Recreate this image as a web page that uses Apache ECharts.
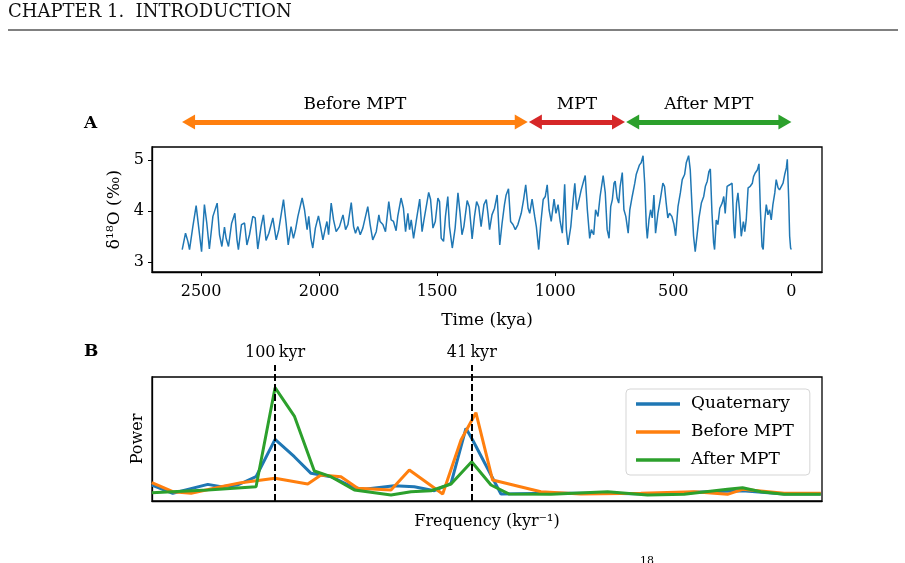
<!DOCTYPE html>
<html>
	<head>
		<meta charset="utf-8" />
		<title>MPT</title>
		<script src="https://cdn.jsdelivr.net/npm/echarts@6/dist/echarts.min.js"></script>
		<style>
			html, body { margin: 0; padding: 0; background: #fff; }
			#chart { width: 905px; height: 563px; }
		</style>
	</head>
	<body>
		<div id="chart"></div>
		<script type="text/javascript">
			// Panel A: d18O stack, age in kya
			var ageKya = [2580,2566,2556,2549,2535,2521,2514,2504,2498,2486,2476,2465,2450,2432,2422,2412,2401,2394,2384,2371,
				2357,2348,2342,2329,2316,2306,2295,2281,2271,2260,2246,2236,2225,2213,2196,2182,2171,2151,2140,2131,
				2119,2109,2100,2090,2072,2062,2051,2044,2035,2027,2016,2003,1994,1984,1975,1967,1960,1949,1939,1928,
				1914,1899,1888,1878,1864,1854,1846,1836,1826,1815,1794,1784,1773,1758,1747,1742,1730,1719,1705,1695,
				1685,1674,1667,1653,1643,1634,1624,1617,1610,1600,1589,1574,1564,1557,1549,1536,1528,1518,1508,1497,
				1490,1483,1473,1465,1455,1448,1436,1424,1412,1403,1395,1387,1373,1364,1352,1342,1333,1324,1314,1302,
				1292,1285,1278,1268,1257,1246,1235,1225,1215,1208,1198,1189,1179,1169,1158,1144,1134,1125,1115,1108,
				1098,1087,1080,1070,1061,1051,1042,1034,1026,1017,1005,997,988,979,970,960,953,946,934,924,
				917,909,899,890,880,873,864,854,847,837,829,819,810,797,788,780,772,765,758,751,
				746,738,731,725,716,709,701,691,684,674,663,657,650,643,636,628,621,614,610,603,
				596,589,582,575,565,554,544,537,530,523,516,506,497,490,480,470,462,452,445,435,
				428,420,414,407,400,391,381,371,364,356,349,343,336,329,325,318,311,303,293,286,
				280,272,261,251,243,239,232,226,219,212,203,197,191,183,174,165,160,153,144,137,
				131,124,119,113,106,99,92,85,78,70,64,56,50,42,35,28,21,17,11,7,3,0];
			var d18O = [3.24,3.56,3.40,3.24,3.69,4.10,4.10,3.43,3.20,4.12,3.76,3.25,3.89,4.15,3.53,3.30,3.68,3.46,3.30,3.75,
				3.95,3.43,3.24,3.73,3.76,3.33,3.53,3.89,3.86,3.25,3.69,3.92,3.42,3.56,3.86,3.43,3.63,4.22,3.76,3.33,
				3.69,3.46,3.63,3.89,4.25,4.02,3.63,3.89,3.46,3.27,3.66,3.90,3.69,3.43,3.63,3.79,3.53,4.15,3.82,3.59,
				3.69,3.92,3.63,3.73,4.16,3.69,3.56,3.69,3.53,3.66,4.08,3.73,3.43,3.59,3.92,3.79,3.73,3.59,4.18,3.82,
				3.79,3.61,3.89,4.25,4.05,3.59,3.95,3.63,3.82,3.46,3.79,4.23,3.59,3.79,3.79,4.36,4.22,3.66,3.79,4.25,
				4.18,3.46,3.40,3.89,4.28,3.69,3.27,3.66,4.35,3.95,3.53,3.69,4.20,4.08,3.45,3.89,4.18,4.08,3.69,4.12,
				4.22,3.95,3.63,3.92,4.05,4.31,3.33,3.76,4.12,4.31,4.43,3.79,3.73,3.63,3.73,3.95,4.22,4.51,4.05,3.95,
				4.23,3.89,3.69,3.24,3.76,4.22,4.28,4.51,4.02,3.79,4.23,3.95,4.12,3.79,3.56,4.52,3.63,3.33,3.69,4.22,
				4.54,4.02,4.22,4.41,4.58,4.69,4.02,3.46,3.63,3.53,4.02,3.89,4.28,4.69,4.35,3.63,3.46,4.08,4.22,4.54,
				4.58,4.25,4.15,4.48,4.75,4.02,3.89,3.56,4.02,4.28,4.54,4.71,4.74,4.90,4.94,5.08,4.54,3.69,3.46,3.82,
				4.02,3.86,4.31,3.56,3.95,4.25,4.54,4.48,4.15,3.86,3.95,3.89,3.73,3.51,4.08,4.35,4.61,4.71,4.94,5.08,
				4.80,4.02,3.50,3.20,3.17,3.86,4.15,4.28,4.48,4.58,4.77,4.82,3.95,3.37,3.24,3.82,3.73,4.05,4.15,4.28,
				3.95,4.48,4.51,4.54,3.63,3.46,4.15,4.35,3.99,3.50,3.79,3.59,3.82,4.45,4.48,4.54,4.67,4.74,4.80,4.92,
				4.02,3.30,3.24,3.79,4.12,3.92,4.02,3.82,4.12,4.35,4.61,4.45,4.41,4.48,4.54,4.71,4.84,5.01,4.22,3.50,3.27,3.24];
			var ageTicks = [0, 500, 1000, 1500, 2000, 2500];
			var d18OTicks = [3, 4, 5];

			// periods shown with arrows above panel A (kya)
			var periodNames = ['Before MPT', 'MPT', 'After MPT'];
			var periodEdges = [2580, 1117, 705, 0];
			var periodColors = ['#ff7f0e', '#d62728', '#2ca02c'];

			// Panel B: power spectra (frequency in 1/kyr, power scaled 0..1)
			var freqQ = [0.00099,0.00252,0.00508,0.00605,0.00727,0.00861,0.0100,0.01141,0.01263,0.01409,0.0158,0.01653,0.01872,0.02018,0.02165,0.02287,0.02396,0.02445,0.02652,0.03018,0.03432,0.03724,0.04163,0.04419,0.04723,0.04991];
			var powQ = [0.129,0.062,0.134,0.115,0.129,0.196,0.497,0.357,0.223,0.196,0.107,0.094,0.123,0.115,0.083,0.143,0.586,0.492,0.056,0.062,0.062,0.056,0.075,0.083,0.056,0.056];
			var freqB = [0.00099,0.00252,0.00386,0.00605,0.00751,0.0100,0.01239,0.01336,0.01482,0.01604,0.01848,0.01982,0.02226,0.0236,0.02469,0.02591,0.02944,0.03237,0.03675,0.04065,0.04309,0.04419,0.04723,0.04991];
			var powB = [0.148,0.075,0.062,0.115,0.148,0.183,0.137,0.210,0.196,0.102,0.089,0.250,0.056,0.492,0.712,0.169,0.075,0.056,0.062,0.075,0.054,0.094,0.062,0.062];
			var freqA = [0.00099,0.00508,0.00861,0.0100,0.01141,0.01287,0.01409,0.0158,0.01848,0.01994,0.0214,0.02287,0.02438,0.02579,0.02713,0.03018,0.03432,0.03724,0.03992,0.04309,0.04419,0.04553,0.04723,0.04991];
			var powA = [0.067,0.089,0.115,0.914,0.685,0.242,0.196,0.089,0.048,0.075,0.083,0.137,0.317,0.129,0.056,0.054,0.075,0.048,0.054,0.094,0.107,0.075,0.054,0.054];
			var cycleNames = ['100\u2009kyr', '41\u2009kyr'];
			var cyclePeriods = [100, 41];

			var font = 'DejaVu Serif';

			function zip(xs, ys) {
				return xs.map(function (x, i) { return [x, ys[i]]; });
			}
			function plain(v) { return String(v); }

			// arrows: shorten each end by half a head so the tip sits on the edge
			var headHalf = 27;
			var arrowLines = periodNames.map(function (name, i) {
				var gap = i > 0 ? 6 : 0;
				return [
					{ coord: [periodEdges[i] - gap - headHalf, 0.5], lineStyle: { color: periodColors[i] }, itemStyle: { color: periodColors[i] },
						label: { formatter: name } },
					{ coord: [periodEdges[i + 1] + headHalf, 0.5] }
				];
			});

			var myChart = echarts.init(document.getElementById('chart'));
			myChart.setOption({
				animation: false,
				textStyle: { fontFamily: font, color: '#000' },
				grid: [
					{ left: 152, right: 83, top: 102, height: 40, show: false },
					{ left: 152, right: 83, top: 147, height: 125, show: true, borderColor: '#000', borderWidth: 1.3 },
					{ left: 152, right: 83, top: 377, height: 124, show: true, borderColor: '#000', borderWidth: 1.3 },
					{ left: 152, right: 83, top: 365, height: 136, show: false }
				],
				xAxis: [
					{ gridIndex: 0, type: 'value', inverse: true, min: -130, max: 2708, show: false },
					{
						gridIndex: 1, type: 'value', inverse: true, min: -130, max: 2708,
						name: 'Time (kya)', nameLocation: 'middle', nameGap: 40,
						nameTextStyle: { fontSize: 17, fontFamily: font, color: '#000' },
						axisLine: { onZero: false, lineStyle: { color: '#000', width: 1.3 } },
						axisTick: { length: 4, lineStyle: { color: '#000' }, customValues: ageTicks },
						axisLabel: { fontSize: 16, fontFamily: font, color: '#000', margin: 12, formatter: plain, customValues: ageTicks },
						splitLine: { show: false }
					},
					{
						gridIndex: 2, type: 'value', min: 0.001, max: 0.05,
						name: 'Frequency (kyr\u207B\u00B9)', nameLocation: 'middle', nameGap: 13,
						nameTextStyle: { fontSize: 16, fontFamily: font, color: '#000' },
						axisLine: { onZero: false, lineStyle: { color: '#000', width: 1.3 } },
						axisTick: { show: false }, axisLabel: { show: false }, splitLine: { show: false }
					},
					{ gridIndex: 3, type: 'value', min: 0.001, max: 0.05, show: false }
				],
				yAxis: [
					{ gridIndex: 0, type: 'value', min: 0, max: 1, show: false },
					{
						gridIndex: 1, type: 'value', min: 2.8, max: 5.25,
						name: '\u03B4\u00B9\u2078O (\u2030)', nameLocation: 'middle', nameGap: 26,
						nameTextStyle: { fontSize: 17, fontFamily: font, color: '#000' },
						axisLine: { show: true, onZero: false, lineStyle: { color: '#000', width: 1.3 } },
						axisTick: { show: true, length: 4, lineStyle: { color: '#000' }, customValues: d18OTicks },
						axisLabel: { fontSize: 16, fontFamily: font, color: '#000', margin: 8, formatter: plain, customValues: d18OTicks },
						splitLine: { show: false }
					},
					{
						gridIndex: 2, type: 'value', min: 0, max: 1,
						name: 'Power', nameLocation: 'middle', nameGap: 6,
						nameTextStyle: { fontSize: 16, fontFamily: font, color: '#000' },
						axisLine: { show: true, onZero: false, lineStyle: { color: '#000', width: 1.3 } },
						axisTick: { show: false }, axisLabel: { show: false }, splitLine: { show: false }
					},
					{ gridIndex: 3, type: 'value', min: 0, max: 1, show: false }
				],
				legend: {
					data: ['Quaternary', 'Before MPT', 'After MPT'],
					orient: 'vertical',
					left: 626, top: 389,
					icon: 'rect',
					padding: [5, 16, 5, 10],
					itemWidth: 44, itemHeight: 3.5, itemGap: 8,
					borderColor: '#d5d5d5', borderWidth: 1, borderRadius: 4,
					backgroundColor: 'rgba(255,255,255,0.8)',
					textStyle: { fontSize: 17, fontFamily: font, color: '#000', padding: [0, 0, 0, 6], lineHeight: 20 }
				},
				series: [
					{
						name: 'arrows', type: 'line', xAxisIndex: 0, yAxisIndex: 0,
						data: zip(periodEdges, periodEdges.map(function () { return 0.5; })),
						symbol: 'none', lineStyle: { opacity: 0 }, silent: true,
						markLine: {
							silent: true,
							symbol: ['triangle', 'triangle'],
							symbolSize: [15, 13],
							lineStyle: { width: 5, type: 'solid' },
							label: { show: true, position: 'middle', distance: 9, fontSize: 17, fontFamily: font, color: '#000' },
							emphasis: { disabled: true },
							data: arrowLines
						}
					},
					{
						name: 'd18O', type: 'line', xAxisIndex: 1, yAxisIndex: 1,
						data: zip(ageKya, d18O),
						symbol: 'none', lineStyle: { color: '#1f77b4', width: 1.5 }
					},
					{
						name: 'Quaternary', type: 'line', xAxisIndex: 2, yAxisIndex: 2,
						data: zip(freqQ, powQ), symbol: 'none',
						color: '#1f77b4', itemStyle: { color: '#1f77b4' }, lineStyle: { color: '#1f77b4', width: 3 }
					},
					{
						name: 'Before MPT', type: 'line', xAxisIndex: 2, yAxisIndex: 2,
						data: zip(freqB, powB), symbol: 'none',
						color: '#ff7f0e', itemStyle: { color: '#ff7f0e' }, lineStyle: { color: '#ff7f0e', width: 3 }
					},
					{
						name: 'After MPT', type: 'line', xAxisIndex: 2, yAxisIndex: 2,
						data: zip(freqA, powA), symbol: 'none',
						color: '#2ca02c', itemStyle: { color: '#2ca02c' }, lineStyle: { color: '#2ca02c', width: 3 }
					},
					{
						name: 'cycles', type: 'line', xAxisIndex: 3, yAxisIndex: 3, z: 5,
						data: cyclePeriods.map(function (p) { return [1 / p, 0]; }),
						symbol: 'none', lineStyle: { opacity: 0 }, silent: true,
						markLine: {
							silent: true, symbol: 'none',
							lineStyle: { color: '#000', width: 2, type: [7, 3] },
							label: { show: true, position: 'end', distance: 4, fontSize: 16, fontFamily: font, color: '#000' },
							emphasis: { disabled: true },
							data: cyclePeriods.map(function (p, i) {
								return [
									{ coord: [1 / p, 0], label: { formatter: cycleNames[i] } },
									{ coord: [1 / p, 1] }
								];
							})
						}
					}
				],
				graphic: [
					{ type: 'text', left: 8, top: 3, style: { text: 'CHAPTER 1.  INTRODUCTION', font: '18px "DejaVu Serif"', fill: '#111' } },
					{ type: 'line', shape: { x1: 8, y1: 30, x2: 898, y2: 30 }, style: { stroke: '#808080', lineWidth: 2 } },
					{ type: 'text', left: 84, top: 115, style: { text: 'A', font: 'bold 17px "DejaVu Serif"', fill: '#000' } },
					{ type: 'text', left: 84, top: 343, style: { text: 'B', font: 'bold 17px "DejaVu Serif"', fill: '#000' } },
					{ type: 'text', left: 640, top: 556, style: { text: '18', font: '11px "DejaVu Serif"', fill: '#000' } }
				]
			});
		</script>
	</body>
</html>
